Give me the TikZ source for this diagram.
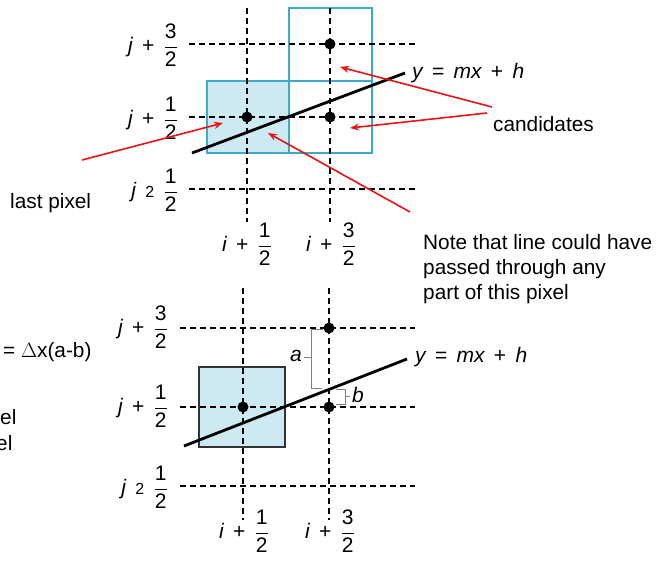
\documentclass[tikz,border=0pt]{standalone}
\usepackage{fontspec}
\setmainfont{Liberation Sans}
\usetikzlibrary{arrows.meta}
\definecolor{pixfill}{HTML}{CDEAF3}
\definecolor{pixline}{HTML}{3FA9C9}
\definecolor{arrred}{HTML}{EE1111}
\definecolor{brk}{HTML}{808080}
\newcommand\fr[2]{$\displaystyle\frac{\hbox{#1}}{\hbox{#2}}$}
\begin{document}
\begin{tikzpicture}[x=1pt,y=-1pt,
  gridline/.style={line width=1.1pt,dash pattern=on 6pt off 4pt},
  pixbox/.style={draw=pixline,line width=1.1pt,inner sep=0pt,outer sep=0pt},
  pixfilled/.style={pixbox,fill=pixfill},
  dot/.style={circle,fill=black,inner sep=0pt,minimum size=11pt},
  mainline/.style={line width=2.8pt},
  redarrow/.style={draw=arrred,line width=1.6pt,-{Stealth[length=9pt,width=7pt]}},
  lbl/.style={inner sep=0pt,font=\fontsize{21}{24}\selectfont},
  txt/.style={inner sep=0pt,font=\fontsize{20.8}{25}\selectfont},
  brack/.style={draw=brk,line width=1pt}]
\useasboundingbox (0,0) rectangle (661,568);
\clip (0,0) rectangle (661,568);

% ---------------- top diagram ----------------
\node[pixfilled,minimum width=82pt,minimum height=72pt] (pl) at (248,117) {};
\node[pixbox,minimum width=83pt,minimum height=72pt] (pr) at (330.5,117) {};
\node[pixbox,minimum width=83pt,minimum height=73pt] (pu) at (330.5,44.5) {};

\coordinate (tv1a) at (247,8);   \coordinate (tv1b) at (247,222);
\coordinate (tv2a) at (330,8);   \coordinate (tv2b) at (330,222);
\coordinate (th1a) at (189,44);  \coordinate (th1b) at (415,44);
\coordinate (th2a) at (189,117); \coordinate (th2b) at (415,117);
\coordinate (th3a) at (189,189); \coordinate (th3b) at (415,189);
\draw[gridline] (tv1a) -- (tv1b);
\draw[gridline] (tv2a) -- (tv2b);
\draw[gridline] (th1a) -- (th1b);
\draw[gridline] (th2a) -- (th2b);
\draw[gridline] (th3a) -- (th3b);

\coordinate (tl1) at (192,153); \coordinate (tl2) at (405,73);
\draw[mainline] (tl1) -- (tl2);

\node[dot] (td1) at (330,44) {};
\node[dot] (td2) at (247,117) {};
\node[dot] (td3) at (330,117) {};

\node[lbl,anchor=west] (teq) at (412,73) {{\itshape y} \,=\, {\itshape mx} \,+\, {\itshape h}};

\node[lbl,anchor=east] (tj3) at (178,45) {{\itshape j} \,+\, \fr{3}{2}};
\node[lbl,anchor=east] (tj1) at (178,118) {{\itshape j} \,+\, \fr{1}{2}};
\node[lbl,anchor=east] (tj0) at (178,190) {{\itshape j}\, {\fontsize{16}{18}\selectfont 2}\, \fr{1}{2}};
\node[lbl] (ti1) at (247,244) {{\itshape i} \,+\, \fr{1}{2}};
\node[lbl] (ti3) at (331,244) {{\itshape i} \,+\, \fr{3}{2}};

\node[txt,anchor=west] (cand) at (493,124) {candidates};
\node[txt,anchor=west] (last) at (10,203) {last pixel};
\node[txt,anchor=north west,align=left] (note) at (423,234)
  {Note that line could have\\passed through any\\part of this pixel};

\coordinate (a1s) at (82,160);  \coordinate (a1e) at (223,123);
\coordinate (a2s) at (492,107); \coordinate (a2e) at (340,67);
\coordinate (a3s) at (487,113); \coordinate (a3e) at (350,128);
\coordinate (a4s) at (410,212); \coordinate (a4e) at (268,133);
\draw[redarrow] (a1s) -- (a1e);
\draw[redarrow] (a2s) -- (a2e);
\draw[redarrow] (a3s) -- (a3e);
\draw[redarrow] (a4s) -- (a4e);

% ---------------- bottom diagram ----------------
\node[draw=black!80,fill=pixfill,line width=1.1pt,inner sep=0pt,
      minimum width=86pt,minimum height=80pt] (bp) at (242,407) {};

\coordinate (bv1a) at (243,288); \coordinate (bv1b) at (243,520);
\coordinate (bv2a) at (329,288); \coordinate (bv2b) at (329,520);
\coordinate (bh1a) at (180,328); \coordinate (bh1b) at (415,328);
\coordinate (bh2a) at (180,407); \coordinate (bh2b) at (415,407);
\coordinate (bh3a) at (180,486); \coordinate (bh3b) at (415,486);
\draw[gridline] (bv1a) -- (bv1b);
\draw[gridline] (bv2a) -- (bv2b);
\draw[gridline] (bh1a) -- (bh1b);
\draw[gridline] (bh2a) -- (bh2b);
\draw[gridline] (bh3a) -- (bh3b);

\coordinate (bl1) at (184,446); \coordinate (bl2) at (407,359);
\draw[mainline] (bl1) -- (bl2);

\node[dot] (bd1) at (329,328) {};
\node[dot] (bd2) at (243,407) {};
\node[dot] (bd3) at (329,407) {};

% brackets a and b
\draw[brack] (323,329) -| (311,388) -- (322,388);
\draw[brack] (311,357) -- (304,357);
\node[lbl,anchor=east] (la) at (302,356) {\itshape a};
\draw[brack] (336,389) -| (345,404) -- (336,404);
\draw[brack] (345,396) -- (350,396);
\node[lbl,anchor=west] (lb) at (352,395) {\itshape b};

\node[lbl,anchor=west] (beq) at (415,357) {{\itshape y} \,=\, {\itshape mx} \,+\, {\itshape h}};

\node[lbl,anchor=east] (bj3) at (168,327) {{\itshape j} \,+\, \fr{3}{2}};
\node[lbl,anchor=east] (bj1) at (168,406) {{\itshape j} \,+\, \fr{1}{2}};
\node[lbl,anchor=east] (bj0) at (168,487) {{\itshape j}\, {\fontsize{16}{18}\selectfont 2}\, \fr{1}{2}};
\node[lbl] (bi1) at (244,531) {{\itshape i} \,+\, \fr{1}{2}};
\node[lbl] (bi3) at (330,531) {{\itshape i} \,+\, \fr{3}{2}};

\node[txt,anchor=west] (dx) at (3,352) {= $\Delta$x(a-b)};
\node[txt,anchor=west] (el1) at (0,417) {el};
\node[txt,anchor=west] (el2) at (-4,443) {el};
\end{tikzpicture}
\end{document}
